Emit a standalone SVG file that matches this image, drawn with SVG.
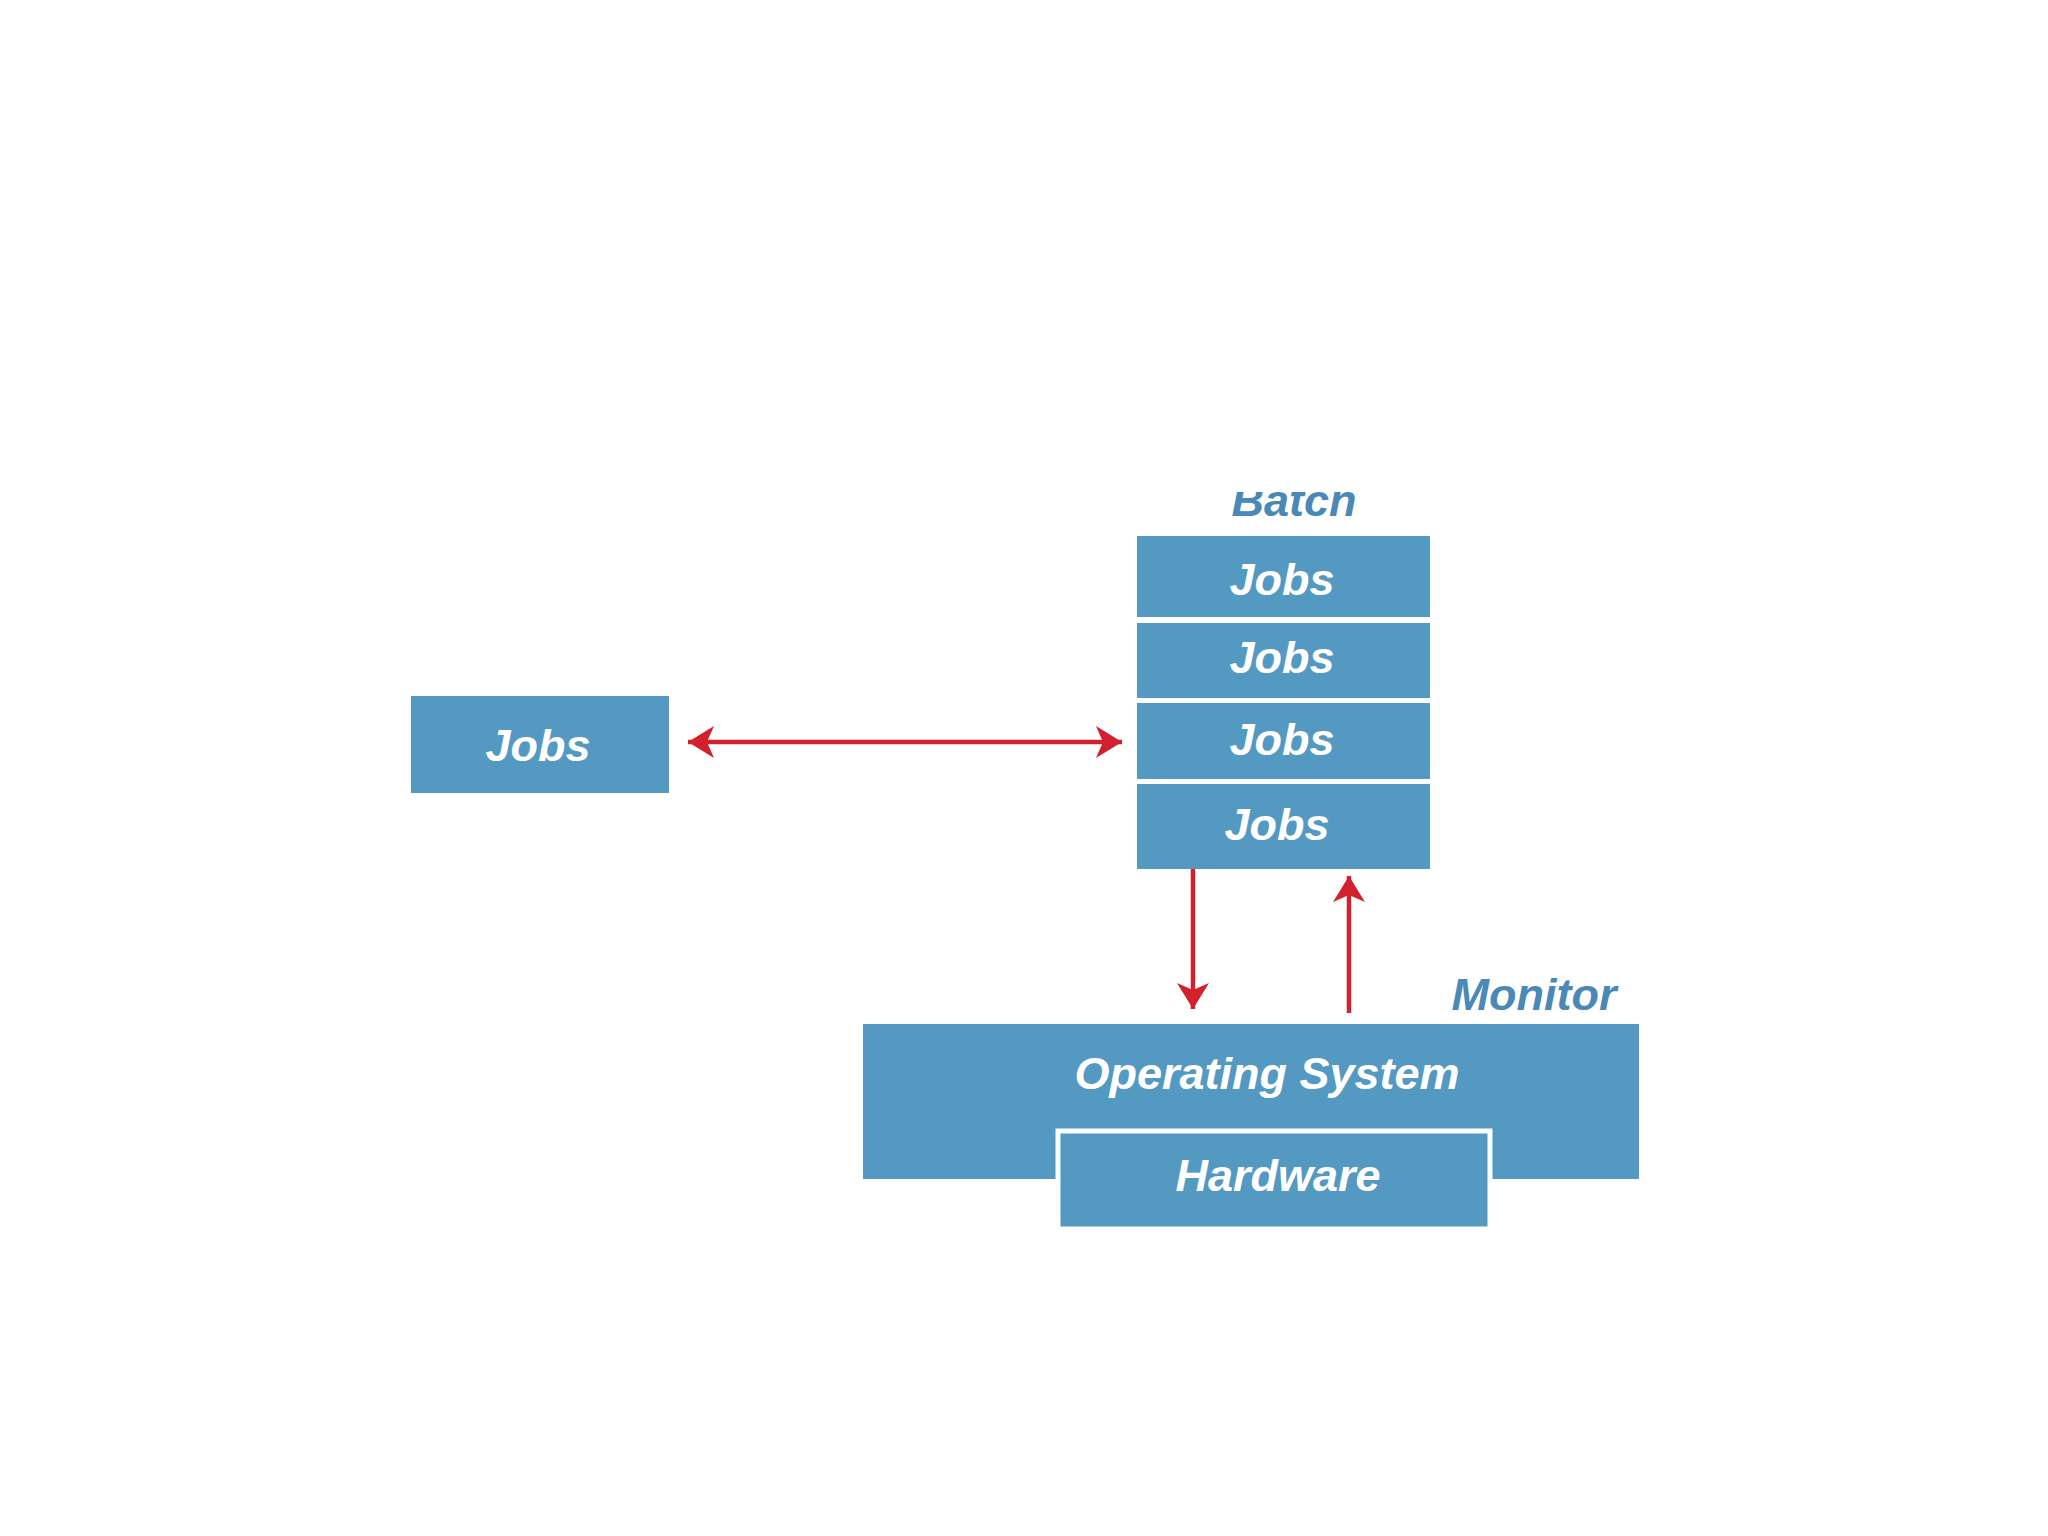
<svg xmlns="http://www.w3.org/2000/svg" width="2048" height="1536" viewBox="0 0 2048 1536">
<style>
.box{fill:#5499c1}
.t{font-family:"Liberation Sans",Arial,sans-serif;font-weight:bold;font-style:italic;font-size:45px;fill:#ffffff;text-anchor:middle}
.lbl{font-family:"Liberation Sans",Arial,sans-serif;font-weight:bold;font-style:italic;font-size:45px;fill:#4a89b6;text-anchor:middle}
.ar{stroke:#d2202c;stroke-width:4.5;fill:none}
</style>
<defs>
<marker id="ah" markerUnits="userSpaceOnUse" markerWidth="28" markerHeight="34" viewBox="0 0 28 34" refX="26" refY="17" orient="auto-start-reverse">
<path d="M0,1 L26,17 L0,33 L7,17 Z" fill="#d2202c"/>
</marker>
<clipPath id="batchclip"><rect x="1150" y="492" width="300" height="40"/></clipPath>
</defs>
<rect width="2048" height="1536" fill="#ffffff"/>
<g id="batch-label"><text class="lbl" x="1294" y="516" clip-path="url(#batchclip)">Batch</text></g>
<g id="jobs-left"><rect class="box" x="411" y="696" width="258" height="97"/><text class="t" x="538" y="761">Jobs</text></g>
<g id="jobs-1"><rect class="box" x="1137" y="536" width="293" height="81"/><text class="t" x="1282" y="595">Jobs</text></g>
<g id="jobs-2"><rect class="box" x="1137" y="623" width="293" height="75"/><text class="t" x="1282" y="673">Jobs</text></g>
<g id="jobs-3"><rect class="box" x="1137" y="703" width="293" height="76"/><text class="t" x="1282" y="755">Jobs</text></g>
<g id="jobs-4"><rect class="box" x="1137" y="784" width="293" height="85"/><text class="t" x="1277" y="840">Jobs</text></g>
<g id="monitor-label"><text class="lbl" x="1534" y="1010">Monitor</text></g>
<g id="os"><rect class="box" x="863" y="1024" width="776" height="155"/><text class="t" x="1267" y="1089">Operating System</text></g>
<g id="hardware"><rect class="box" x="1058" y="1131" width="432" height="98" stroke="#ffffff" stroke-width="5"/><text class="t" x="1278" y="1191">Hardware</text></g>
<g id="connectors">
<line class="ar" x1="688" y1="742" x2="1122" y2="742" marker-start="url(#ah)" marker-end="url(#ah)"/>
<line class="ar" x1="1193" y1="869" x2="1193" y2="1009" marker-end="url(#ah)"/>
<line class="ar" x1="1349" y1="1013" x2="1349" y2="876" marker-end="url(#ah)"/>
</g>
</svg>
